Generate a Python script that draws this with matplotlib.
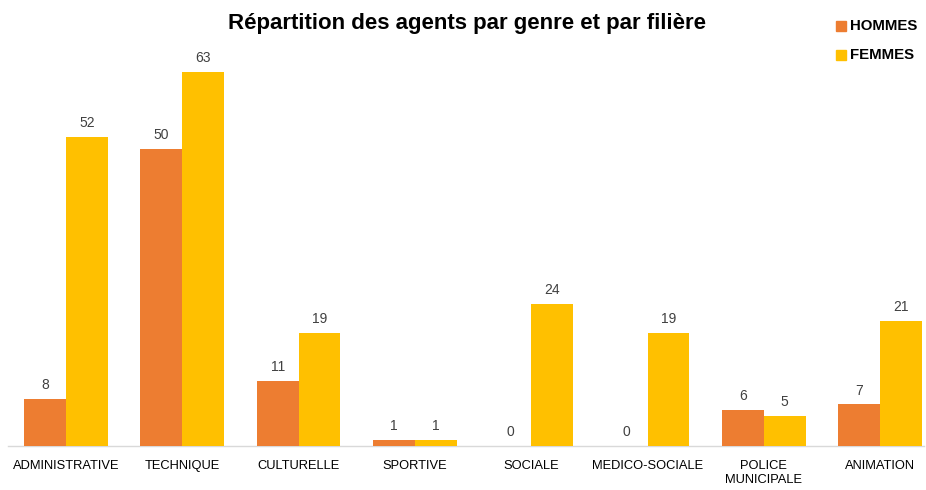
import matplotlib
matplotlib.use("Agg")
import matplotlib.pyplot as plt
from matplotlib.patches import Rectangle

categories = ["ADMINISTRATIVE", "TECHNIQUE", "CULTURELLE", "SPORTIVE", "SOCIALE",
              "MEDICO-SOCIALE", "POLICE\nMUNICIPALE", "ANIMATION"]
hommes = [8, 50, 11, 1, 0, 0, 6, 7]
femmes = [52, 63, 19, 1, 24, 19, 5, 21]
title = "Répartition des agents par genre et par filière"

plt.rcParams['font.family'] = ['Liberation Sans', 'DejaVu Sans']

W, H = 926, 490
fig = plt.figure(figsize=(W/100, H/100), dpi=100)
ax = fig.add_axes([0, 44/H, 1, (446-72)/H])

c_h = "#ED7D31"
c_f = "#FFC000"
bw = 0.36
x = list(range(len(categories)))
ax.bar([i - bw/2 for i in x], hommes, width=bw, color=c_h, label="HOMMES")
ax.bar([i + bw/2 for i in x], femmes, width=bw, color=c_f, label="FEMMES")

for i in x:
    ax.annotate(str(hommes[i]), (i - bw/2, hommes[i]), xytext=(0, 5), textcoords="offset points",
                ha="center", va="bottom", fontsize=10, color="#404040")
    ax.annotate(str(femmes[i]), (i + bw/2, femmes[i]), xytext=(0, 5), textcoords="offset points",
                ha="center", va="bottom", fontsize=10, color="#404040")

x0 = -66/116.3
x1 = (W-66)/116.3
ax.set_xlim(x0, x1)
ax.set_ylim(0, 63)
ax.plot([x0 + 8/116.3, x0 + 924/116.3], [0, 0], color="#D9D9D9", lw=1, clip_on=False, zorder=0)
for s in ax.spines.values():
    s.set_visible(False)
ax.set_yticks([])
ax.set_xticks(x)
ax.set_xticklabels(categories, fontsize=9.3, color="#000000", linespacing=1.2)
ax.tick_params(axis="x", length=0, pad=10)

fig.text(467/W, 1 - 24/H, title, ha="center", va="center", fontsize=16, fontweight="bold", color="#000000")

for yy, col, lab in [(26, c_h, "HOMMES"), (55, c_f, "FEMMES")]:
    fig.patches.append(Rectangle((836/W, 1 - (yy+5)/H), 10/W, 10/H, transform=fig.transFigure,
                                 color=col))
    fig.text(850/W, 1 - yy/H, lab, ha="left", va="center", fontsize=10.8, fontweight="bold", color="#000000")

fig.savefig("out.png", dpi=100)
